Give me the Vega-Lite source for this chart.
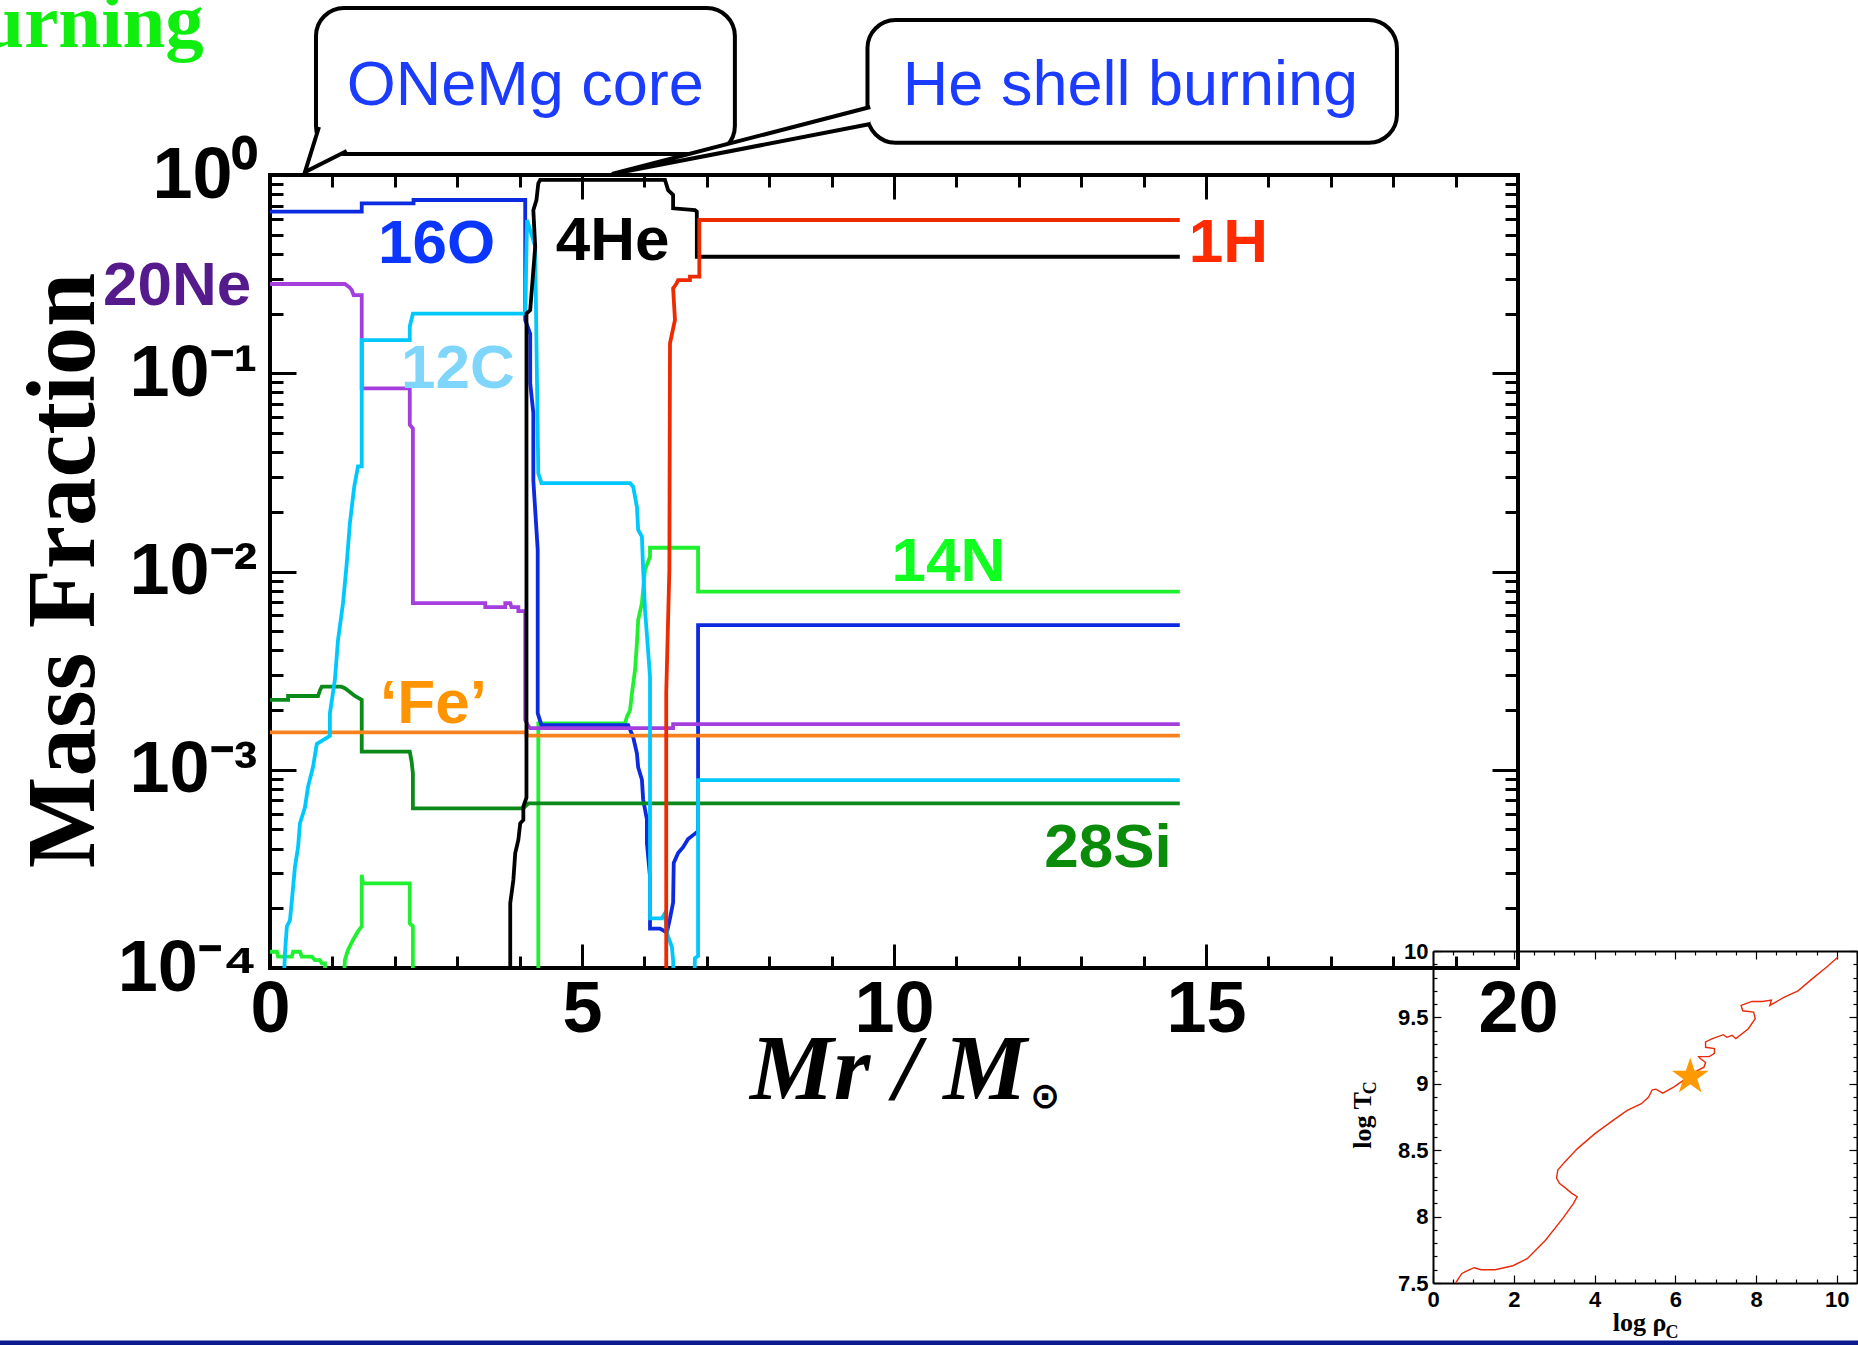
{
"$schema": "https://vega.github.io/schema/vega-lite/v6.json",
"width": 1248, "height": 793,
"autosize": {"type": "none"},
"padding": {"left": 270, "top": 175, "right": 340, "bottom": 377},
"background": "white",
"config": {"view": {"stroke": "black", "strokeWidth": 4}, "axis": {"grid": false, "tickColor": "black", "domainColor": "black", "labelColor": "black", "titleColor": "black"}},
"datasets": {
"comp": [
{"s":"14N","i":0,"x":0,"y":0.0001208},{"s":"14N","i":1,"x":0.11,"y":0.0001208},{"s":"14N","i":2,"x":0.13,"y":0.000114},{"s":"14N","i":3,"x":0.35,"y":0.000114},{"s":"14N","i":4,"x":0.37,"y":0.0001208},{"s":"14N","i":5,"x":0.48,"y":0.0001208},{"s":"14N","i":6,"x":0.51,"y":0.000114},{"s":"14N","i":7,"x":0.67,"y":0.000114},{"s":"14N","i":8,"x":0.72,"y":0.0001096},{"s":"14N","i":9,"x":0.8,"y":0.0001096},{"s":"14N","i":10,"x":0.83,"y":0.0001054},{"s":"14N","i":11,"x":0.88,"y":0.0001054},{"s":"14N","i":12,"x":0.91,"y":0.00005},{"s":"14N","i":13,"x":1.15,"y":0.00005},{"s":"14N","i":14,"x":1.2,"y":0.0001096},{"s":"14N","i":15,"x":1.25,"y":0.0001233},{"s":"14N","i":16,"x":1.33,"y":0.0001384},{"s":"14N","i":17,"x":1.42,"y":0.0001549},{"s":"14N","i":18,"x":1.47,"y":0.0001622},{"s":"14N","i":19,"x":1.47,"y":0.0002951},{"s":"14N","i":20,"x":1.49,"y":0.0002673},{"s":"14N","i":21,"x":2.24,"y":0.0002673},{"s":"14N","i":22,"x":2.24,"y":0.0001679},{"s":"14N","i":23,"x":2.29,"y":0.0001622},{"s":"14N","i":24,"x":2.29,"y":0.00005},{"s":"14N","i":25,"x":4.3,"y":0.00005},{"s":"14N","i":26,"x":4.3,"y":0.001714},{"s":"14N","i":27,"x":5.69,"y":0.001714},{"s":"14N","i":28,"x":5.72,"y":0.001854},{"s":"14N","i":29,"x":5.77,"y":0.001995},{"s":"14N","i":30,"x":5.8,"y":0.002427},{"s":"14N","i":31,"x":5.85,"y":0.003184},{"s":"14N","i":32,"x":5.88,"y":0.004345},{"s":"14N","i":33,"x":5.9,"y":0.005689},{"s":"14N","i":34,"x":5.96,"y":0.006918},{"s":"14N","i":35,"x":6.01,"y":0.01023},{"s":"14N","i":36,"x":6.09,"y":0.01189},{"s":"14N","i":37,"x":6.09,"y":0.01318},{"s":"14N","i":38,"x":6.86,"y":0.01318},{"s":"14N","i":39,"x":6.86,"y":0.007907},{"s":"14N","i":40,"x":14.58,"y":0.007907},
{"s":"16O","i":0,"x":0,"y":0.653},{"s":"16O","i":1,"x":1.47,"y":0.653},{"s":"16O","i":2,"x":1.47,"y":0.719},{"s":"16O","i":3,"x":2.3,"y":0.719},{"s":"16O","i":4,"x":2.3,"y":0.748},{"s":"16O","i":5,"x":4.09,"y":0.748},{"s":"16O","i":6,"x":4.09,"y":0.186},{"s":"16O","i":7,"x":4.17,"y":0.158},{"s":"16O","i":8,"x":4.17,"y":0.0891},{"s":"16O","i":9,"x":4.22,"y":0.0631},{"s":"16O","i":10,"x":4.22,"y":0.0288},{"s":"16O","i":11,"x":4.29,"y":0.0129},{"s":"16O","i":12,"x":4.29,"y":0.00193},{"s":"16O","i":13,"x":4.35,"y":0.00168},{"s":"16O","i":14,"x":5.74,"y":0.00168},{"s":"16O","i":15,"x":5.82,"y":0.00146},{"s":"16O","i":16,"x":5.88,"y":0.00121},{"s":"16O","i":17,"x":5.9,"y":0.00103},{"s":"16O","i":18,"x":5.96,"y":0.000891},{"s":"16O","i":19,"x":5.98,"y":0.000708},{"s":"16O","i":20,"x":6.04,"y":0.000562},{"s":"16O","i":21,"x":6.04,"y":0.000427},{"s":"16O","i":22,"x":6.09,"y":0.000288},{"s":"16O","i":23,"x":6.09,"y":0.000158},{"s":"16O","i":24,"x":6.25,"y":0.000158},{"s":"16O","i":25,"x":6.36,"y":0.000151},{"s":"16O","i":26,"x":6.41,"y":0.000178},{"s":"16O","i":27,"x":6.46,"y":0.000214},{"s":"16O","i":28,"x":6.47,"y":0.000339},{"s":"16O","i":29,"x":6.54,"y":0.00038},{"s":"16O","i":30,"x":6.62,"y":0.000407},{"s":"16O","i":31,"x":6.7,"y":0.000447},{"s":"16O","i":32,"x":6.78,"y":0.000468},{"s":"16O","i":33,"x":6.86,"y":0.00049},{"s":"16O","i":34,"x":6.86,"y":0.00537},{"s":"16O","i":35,"x":14.58,"y":0.00537},
{"s":"20Ne","i":0,"x":0,"y":0.282},{"s":"20Ne","i":1,"x":1.2,"y":0.282},{"s":"20Ne","i":2,"x":1.27,"y":0.272},{"s":"20Ne","i":3,"x":1.31,"y":0.263},{"s":"20Ne","i":4,"x":1.34,"y":0.248},{"s":"20Ne","i":5,"x":1.47,"y":0.248},{"s":"20Ne","i":6,"x":1.47,"y":0.0839},{"s":"20Ne","i":7,"x":2.24,"y":0.0839},{"s":"20Ne","i":8,"x":2.24,"y":0.055},{"s":"20Ne","i":9,"x":2.29,"y":0.0527},{"s":"20Ne","i":10,"x":2.29,"y":0.00692},{"s":"20Ne","i":11,"x":3.45,"y":0.00692},{"s":"20Ne","i":12,"x":3.45,"y":0.00661},{"s":"20Ne","i":13,"x":3.77,"y":0.00661},{"s":"20Ne","i":14,"x":3.77,"y":0.00692},{"s":"20Ne","i":15,"x":3.85,"y":0.00692},{"s":"20Ne","i":16,"x":3.87,"y":0.00661},{"s":"20Ne","i":17,"x":3.98,"y":0.00661},{"s":"20Ne","i":18,"x":3.98,"y":0.00631},{"s":"20Ne","i":19,"x":4.09,"y":0.00631},{"s":"20Ne","i":20,"x":4.09,"y":0.00178},{"s":"20Ne","i":21,"x":4.14,"y":0.00166},{"s":"20Ne","i":22,"x":4.17,"y":0.00162},{"s":"20Ne","i":23,"x":6.46,"y":0.00162},{"s":"20Ne","i":24,"x":6.46,"y":0.0017},{"s":"20Ne","i":25,"x":14.58,"y":0.0017},
{"s":"28Si","i":0,"x":0,"y":0.002249},{"s":"28Si","i":1,"x":0.29,"y":0.002249},{"s":"28Si","i":2,"x":0.29,"y":0.002355},{"s":"28Si","i":3,"x":0.77,"y":0.002355},{"s":"28Si","i":4,"x":0.8,"y":0.002512},{"s":"28Si","i":5,"x":0.83,"y":0.002624},{"s":"28Si","i":6,"x":1.14,"y":0.002624},{"s":"28Si","i":7,"x":1.2,"y":0.002576},{"s":"28Si","i":8,"x":1.28,"y":0.002466},{"s":"28Si","i":9,"x":1.36,"y":0.002355},{"s":"28Si","i":10,"x":1.47,"y":0.002249},{"s":"28Si","i":11,"x":1.47,"y":0.001233},{"s":"28Si","i":12,"x":2.24,"y":0.001233},{"s":"28Si","i":13,"x":2.27,"y":0.001096},{"s":"28Si","i":14,"x":2.29,"y":0.000959},{"s":"28Si","i":15,"x":2.29,"y":0.000638},{"s":"28Si","i":16,"x":4.06,"y":0.000638},{"s":"28Si","i":17,"x":4.11,"y":0.000664},{"s":"28Si","i":18,"x":4.14,"y":0.000676},{"s":"28Si","i":19,"x":14.58,"y":0.000676},
{"s":"Fe","i":0,"x":0,"y":0.001545},{"s":"Fe","i":1,"x":4.11,"y":0.001545},{"s":"Fe","i":2,"x":4.11,"y":0.001486},{"s":"Fe","i":3,"x":14.58,"y":0.001486},
{"s":"12C","i":0,"x":0.19,"y":0.00005},{"s":"12C","i":1,"x":0.24,"y":0.000119},{"s":"12C","i":2,"x":0.27,"y":0.000162},{"s":"12C","i":3,"x":0.32,"y":0.000174},{"s":"12C","i":4,"x":0.35,"y":0.000219},{"s":"12C","i":5,"x":0.4,"y":0.000324},{"s":"12C","i":6,"x":0.45,"y":0.000407},{"s":"12C","i":7,"x":0.48,"y":0.000537},{"s":"12C","i":8,"x":0.56,"y":0.000646},{"s":"12C","i":9,"x":0.61,"y":0.000822},{"s":"12C","i":10,"x":0.69,"y":0.001035},{"s":"12C","i":11,"x":0.75,"y":0.00135},{"s":"12C","i":12,"x":0.96,"y":0.00148},{"s":"12C","i":13,"x":0.96,"y":0.00193},{"s":"12C","i":14,"x":1.04,"y":0.00284},{"s":"12C","i":15,"x":1.09,"y":0.00452},{"s":"12C","i":16,"x":1.17,"y":0.00692},{"s":"12C","i":17,"x":1.23,"y":0.011},{"s":"12C","i":18,"x":1.28,"y":0.0175},{"s":"12C","i":19,"x":1.35,"y":0.0268},{"s":"12C","i":20,"x":1.41,"y":0.0339},{"s":"12C","i":21,"x":1.47,"y":0.0339},{"s":"12C","i":22,"x":1.47,"y":0.147},{"s":"12C","i":23,"x":2.24,"y":0.147},{"s":"12C","i":24,"x":2.24,"y":0.172},{"s":"12C","i":25,"x":2.29,"y":0.2},{"s":"12C","i":26,"x":4.09,"y":0.2},{"s":"12C","i":27,"x":4.12,"y":0.593},{"s":"12C","i":28,"x":4.25,"y":0.435},{"s":"12C","i":29,"x":4.27,"y":0.1416},{"s":"12C","i":30,"x":4.3,"y":0.0313},{"s":"12C","i":31,"x":4.35,"y":0.0279},{"s":"12C","i":32,"x":5.77,"y":0.0279},{"s":"12C","i":33,"x":5.82,"y":0.0268},{"s":"12C","i":34,"x":5.88,"y":0.0212},{"s":"12C","i":35,"x":5.9,"y":0.0162},{"s":"12C","i":36,"x":5.96,"y":0.015},{"s":"12C","i":37,"x":5.98,"y":0.0102},{"s":"12C","i":38,"x":6.01,"y":0.0064},{"s":"12C","i":39,"x":6.09,"y":0.00295},{"s":"12C","i":40,"x":6.09,"y":0.000178},{"s":"12C","i":41,"x":6.28,"y":0.000178},{"s":"12C","i":42,"x":6.33,"y":0.000189},{"s":"12C","i":43,"x":6.36,"y":0.00015},{"s":"12C","i":44,"x":6.44,"y":0.000128},{"s":"12C","i":45,"x":6.46,"y":0.00011},{"s":"12C","i":46,"x":6.49,"y":0.00005},{"s":"12C","i":47,"x":6.78,"y":0.00005},{"s":"12C","i":48,"x":6.81,"y":0.000112},{"s":"12C","i":49,"x":6.86,"y":0.000115},{"s":"12C","i":50,"x":6.86,"y":0.000887},{"s":"12C","i":51,"x":14.58,"y":0.000887},
{"s":"4He","i":0,"x":3.85,"y":0.00005},{"s":"4He","i":1,"x":3.85,"y":0.000212},{"s":"4He","i":2,"x":3.9,"y":0.000278},{"s":"4He","i":3,"x":3.93,"y":0.00038},{"s":"4He","i":4,"x":3.98,"y":0.000443},{"s":"4He","i":5,"x":4.01,"y":0.000537},{"s":"4He","i":6,"x":4.06,"y":0.000558},{"s":"4He","i":7,"x":4.06,"y":0.000652},{"s":"4He","i":8,"x":4.11,"y":0.000724},{"s":"4He","i":9,"x":4.11,"y":0.2},{"s":"4He","i":10,"x":4.17,"y":0.208},{"s":"4He","i":11,"x":4.25,"y":0.435},{"s":"4He","i":12,"x":4.22,"y":0.665},{"s":"4He","i":13,"x":4.27,"y":0.748},{"s":"4He","i":14,"x":4.3,"y":0.908},{"s":"4He","i":15,"x":4.33,"y":0.944},{"s":"4He","i":16,"x":6.33,"y":0.944},{"s":"4He","i":17,"x":6.38,"y":0.839},{"s":"4He","i":18,"x":6.46,"y":0.794},{"s":"4He","i":19,"x":6.46,"y":0.679},{"s":"4He","i":20,"x":6.81,"y":0.665},{"s":"4He","i":21,"x":6.84,"y":0.653},{"s":"4He","i":22,"x":6.84,"y":0.387},{"s":"4He","i":23,"x":14.58,"y":0.387},
{"s":"1H","i":0,"x":6.35,"y":0.00005},{"s":"1H","i":1,"x":6.35,"y":0.00243},{"s":"1H","i":2,"x":6.4,"y":0.0102},{"s":"1H","i":3,"x":6.41,"y":0.1416},{"s":"1H","i":4,"x":6.49,"y":0.186},{"s":"1H","i":5,"x":6.46,"y":0.268},{"s":"1H","i":6,"x":6.51,"y":0.282},{"s":"1H","i":7,"x":6.54,"y":0.295},{"s":"1H","i":8,"x":6.73,"y":0.295},{"s":"1H","i":9,"x":6.73,"y":0.307},{"s":"1H","i":10,"x":6.88,"y":0.307},{"s":"1H","i":11,"x":6.88,"y":0.593},{"s":"1H","i":12,"x":14.58,"y":0.593}
],
"labels": [
{"n":"16O","x":2.67,"y":0.36},{"n":"4He","x":5.49,"y":0.372},{"n":"1H","x":15.36,"y":0.364},{"n":"20Ne","x":-1.49,"y":0.222},{"n":"12C","x":3.01,"y":0.0839},{"n":"14N","x":10.87,"y":0.00895},{"n":"‘Fe’","x":2.62,"y":0.00172},{"n":"28Si","x":13.43,"y":0.000324}
],
"bubbles": [
{"t":"ONeMg core","x":4.09,"y":2.254},{"t":"He shell burning","x":13.79,"y":2.254}
],
"tail1": [{"i":0,"x":0.785,"y":1.746},{"i":1,"x":0.56,"y":1.035},{"i":2,"x":1.23,"y":1.321}],
"tail2": [{"i":0,"x":9.62,"y":2.203},{"i":1,"x":5.48,"y":1.012},{"i":2,"x":9.62,"y":1.807}],
"track": [
{"i":1,"rho":0.56,"T":7.5},{"i":2,"rho":0.71,"T":7.57},{"i":3,"rho":0.8,"T":7.585},{"i":4,"rho":1.02,"T":7.615},{"i":5,"rho":1.19,"T":7.6},{"i":6,"rho":1.54,"T":7.6},{"i":7,"rho":1.98,"T":7.63},{"i":8,"rho":2.34,"T":7.685},{"i":9,"rho":2.78,"T":7.82},{"i":10,"rho":3.21,"T":7.985},{"i":11,"rho":3.48,"T":8.1},{"i":12,"rho":3.57,"T":8.15},{"i":13,"rho":3.44,"T":8.175},{"i":14,"rho":3.26,"T":8.22},{"i":15,"rho":3.13,"T":8.25},{"i":16,"rho":3.06,"T":8.29},{"i":17,"rho":3.09,"T":8.35},{"i":18,"rho":3.26,"T":8.41},{"i":19,"rho":3.57,"T":8.51},{"i":20,"rho":4.01,"T":8.625},{"i":21,"rho":4.46,"T":8.725},{"i":22,"rho":4.81,"T":8.8},{"i":23,"rho":5.16,"T":8.85},{"i":24,"rho":5.34,"T":8.9},{"i":25,"rho":5.43,"T":8.955},{"i":26,"rho":5.52,"T":8.96},{"i":27,"rho":5.69,"T":8.93},{"i":28,"rho":5.96,"T":8.975},{"i":29,"rho":6.22,"T":9.03},{"i":30,"rho":6.49,"T":9.09},{"i":31,"rho":6.71,"T":9.125},{"i":32,"rho":6.75,"T":9.16},{"i":33,"rho":6.62,"T":9.19},{"i":34,"rho":6.58,"T":9.205},{"i":35,"rho":6.84,"T":9.205},{"i":36,"rho":6.97,"T":9.23},{"i":37,"rho":6.97,"T":9.265},{"i":38,"rho":6.75,"T":9.275},{"i":39,"rho":6.75,"T":9.315},{"i":40,"rho":6.92,"T":9.34},{"i":41,"rho":7.19,"T":9.37},{"i":42,"rho":7.28,"T":9.35},{"i":43,"rho":7.41,"T":9.365},{"i":44,"rho":7.5,"T":9.34},{"i":45,"rho":7.81,"T":9.415},{"i":46,"rho":7.98,"T":9.49},{"i":47,"rho":7.94,"T":9.54},{"i":48,"rho":7.67,"T":9.55},{"i":49,"rho":7.63,"T":9.59},{"i":50,"rho":7.9,"T":9.62},{"i":51,"rho":8.16,"T":9.62},{"i":52,"rho":8.38,"T":9.63},{"i":53,"rho":8.34,"T":9.59},{"i":54,"rho":8.69,"T":9.65},{"i":55,"rho":9.04,"T":9.7},{"i":56,"rho":9.39,"T":9.79},{"i":57,"rho":9.75,"T":9.88},{"i":58,"rho":10.03,"T":9.955}
],
"star": [{"rho":6.37,"T":9.053}],
"one": [{}]
},
"layer": [
{
"layer": [
{"data": {"name": "one"},
 "mark": {"type": "rule", "color": "#0b1a8c", "strokeWidth": 5},
 "encoding": {
  "x": {"datum": -5, "type": "quantitative", "scale": {"domain": [0, 20], "nice": false, "zero": false}, "axis": null},
  "x2": {"datum": 27},
  "y": {"datum": 0.000001284, "type": "quantitative", "scale": {"type": "log", "domain": [0.0001, 1], "nice": false}, "axis": null}}},
{"data": {"name": "one"},
 "mark": {"type": "rect", "cornerRadius": 28, "fill": "white", "stroke": "black", "strokeWidth": 4},
 "encoding": {
  "x": {"datum": 0.737, "type": "quantitative", "scale": {"domain": [0, 20], "nice": false, "zero": false}, "axis": null},
  "x2": {"datum": 7.45},
  "y": {"datum": 6.95, "type": "quantitative", "scale": {"type": "log", "domain": [0.0001, 1], "nice": false}, "axis": null},
  "y2": {"datum": 1.276}}},
{"data": {"name": "tail1"},
 "mark": {"type": "line", "stroke": "black", "strokeWidth": 4, "fill": "white", "strokeJoin": "miter"},
 "encoding": {
  "x": {"field": "x", "type": "quantitative", "scale": {"domain": [0, 20], "nice": false, "zero": false}, "axis": null},
  "y": {"field": "y", "type": "quantitative", "scale": {"type": "log", "domain": [0.0001, 1], "nice": false}, "axis": null},
  "order": {"field": "i"}}},
{"data": {"name": "one"},
 "mark": {"type": "rect", "cornerRadius": 28, "fill": "white", "stroke": "black", "strokeWidth": 4},
 "encoding": {
  "x": {"datum": 9.575, "type": "quantitative", "scale": {"domain": [0, 20], "nice": false, "zero": false}, "axis": null},
  "x2": {"datum": 18.06},
  "y": {"datum": 6.05, "type": "quantitative", "scale": {"type": "log", "domain": [0.0001, 1], "nice": false}, "axis": null},
  "y2": {"datum": 1.455}}},
{"data": {"name": "tail2"},
 "mark": {"type": "line", "stroke": "black", "strokeWidth": 4, "fill": "white", "strokeJoin": "miter"},
 "encoding": {
  "x": {"field": "x", "type": "quantitative", "scale": {"domain": [0, 20], "nice": false, "zero": false}, "axis": null},
  "y": {"field": "y", "type": "quantitative", "scale": {"type": "log", "domain": [0.0001, 1], "nice": false}, "axis": null},
  "order": {"field": "i"}}},
{"data": {"name": "bubbles"},
 "mark": {"type": "text", "font": "Liberation Sans", "fontSize": 63, "color": "#1b3cff", "align": "center", "baseline": "alphabetic"},
 "encoding": {
  "text": {"field": "t"},
  "x": {"field": "x", "type": "quantitative", "scale": {"domain": [0, 20], "nice": false, "zero": false},
   "axis": {"orient": "bottom", "offset": -793, "values": [0,1,2,3,4,5,6,7,8,9,10,11,12,13,14,15,16,17,18,19,20], "labels": false, "domain": false, "tickWidth": 3, "tickSize": {"condition": {"test": "datum.value % 5 == 0", "value": 24}, "value": 12}, "title": null}},
  "y": {"field": "y", "type": "quantitative", "scale": {"type": "log", "domain": [0.0001, 1], "nice": false},
   "axis": {"orient": "left", "offset": -1248, "values": [0.0001,0.0002,0.0003,0.0004,0.0005,0.0006,0.0007,0.0008,0.0009,0.001,0.002,0.003,0.004,0.005,0.006,0.007,0.008,0.009,0.01,0.02,0.03,0.04,0.05,0.06,0.07,0.08,0.09,0.1,0.2,0.3,0.4,0.5,0.6,0.7,0.8,0.9,1], "labels": false, "domain": false, "tickWidth": 3, "tickSize": {"condition": {"test": "abs(log(datum.value)/LN10 - round(log(datum.value)/LN10)) < 0.001", "value": 26}, "value": 13}, "title": null}}}},
{"data": {"name": "comp"},
 "mark": {"type": "line", "strokeWidth": 3.8, "clip": true},
 "encoding": {
  "x": {"field": "x", "type": "quantitative", "scale": {"domain": [0, 20], "nice": false, "zero": false},
   "axis": {"orient": "bottom", "values": [0,5,10,15,20], "ticks": false, "domain": false, "format": "d", "labelFont": "Liberation Sans", "labelFontWeight": "bold", "labelFontSize": 72, "labelPadding": 6, "labelFlush": false, "labelOverlap": false,
    "title": "Mr / M", "titleFont": "Liberation Serif", "titleFontSize": 94, "titleFontWeight": "bold", "titleFontStyle": "italic", "titleX": 618, "titleY": 130, "titleBaseline": "alphabetic", "titleAlign": "center"}},
  "y": {"field": "y", "type": "quantitative", "scale": {"type": "log", "domain": [0.0001, 1], "nice": false},
   "axis": {"orient": "left", "values": [0.0001, 0.001, 0.01, 0.1, 1], "ticks": false, "domain": false, "labelExpr": "'10' + ['⁰','⁻¹','⁻²','⁻³','⁻⁴'][round(-log(datum.value)/LN10)]", "labelFont": "Liberation Sans", "labelFontWeight": "bold", "labelFontSize": 72, "labelPadding": 13, "labelFlush": false, "labelOverlap": false,
    "title": "Mass Fraction", "titleFont": "Liberation Serif", "titleFontSize": 97, "titleFontWeight": "bold", "titleAngle": 270, "titleX": -177, "titleY": 395, "titleBaseline": "alphabetic", "titleAlign": "center"}},
  "color": {"field": "s", "type": "nominal", "legend": null,
   "scale": {"domain": ["14N","16O","20Ne","28Si","Fe","12C","4He","1H"], "range": ["#20f030","#0c2ae0","#a43fdd","#0b8a1a","#f5821f","#00c8ff","#000000","#ee2a00"]}},
  "order": {"field": "i"}}},
{"data": {"name": "labels"},
 "mark": {"type": "text", "font": "Liberation Sans", "fontWeight": "bold", "fontSize": 62, "align": "center", "baseline": "alphabetic"},
 "encoding": {
  "text": {"field": "n"},
  "x": {"field": "x", "type": "quantitative", "scale": {"domain": [0, 20], "nice": false, "zero": false},
   "axis": {"orient": "top", "offset": -793, "values": [0,1,2,3,4,5,6,7,8,9,10,11,12,13,14,15,16,17,18,19,20], "labels": false, "domain": false, "tickWidth": 3, "tickSize": {"condition": {"test": "datum.value % 5 == 0", "value": 24}, "value": 12}, "title": null}},
  "y": {"field": "y", "type": "quantitative", "scale": {"type": "log", "domain": [0.0001, 1], "nice": false},
   "axis": {"orient": "right", "offset": -1248, "values": [0.0001,0.0002,0.0003,0.0004,0.0005,0.0006,0.0007,0.0008,0.0009,0.001,0.002,0.003,0.004,0.005,0.006,0.007,0.008,0.009,0.01,0.02,0.03,0.04,0.05,0.06,0.07,0.08,0.09,0.1,0.2,0.3,0.4,0.5,0.6,0.7,0.8,0.9,1], "labels": false, "domain": false, "tickWidth": 3, "tickSize": {"condition": {"test": "abs(log(datum.value)/LN10 - round(log(datum.value)/LN10)) < 0.001", "value": 26}, "value": 13}, "title": null}},
  "color": {"field": "n", "type": "nominal", "legend": null,
   "scale": {"domain": ["16O","4He","1H","20Ne","12C","14N","‘Fe’","28Si"], "range": ["#0a36ff","#000000","#ff2a00","#551a8b","#80d6fa","#10ff20","#ff9400","#0a8c0a"]}}}},
{"data": {"name": "one"},
 "mark": {"type": "text", "text": "⊙", "font": "DejaVu Sans", "fontSize": 36, "fontWeight": "bold", "color": "black", "align": "center", "baseline": "alphabetic"},
 "encoding": {
  "x": {"datum": 12.42, "type": "quantitative", "scale": {"domain": [0, 20], "nice": false, "zero": false}, "axis": null},
  "y": {"datum": 0.00001967, "type": "quantitative", "scale": {"type": "log", "domain": [0.0001, 1], "nice": false}, "axis": null}}},
{"data": {"name": "one"},
 "mark": {"type": "text", "text": "Burning", "font": "Liberation Serif", "fontSize": 77, "fontWeight": "bold", "color": "#10ee10", "align": "right", "baseline": "alphabetic"},
 "encoding": {
  "x": {"datum": -1.06, "type": "quantitative", "scale": {"domain": [0, 20], "nice": false, "zero": false}, "axis": null},
  "y": {"datum": 4.426, "type": "quantitative", "scale": {"type": "log", "domain": [0.0001, 1], "nice": false}, "axis": null}}}
],
"resolve": {"scale": {"color": "independent"}, "axis": {"x": "independent", "y": "independent"}}
},
{
"layer": [
{"data": {"name": "track"},
 "mark": {"type": "line", "color": "#e82a0a", "strokeWidth": 1.4},
 "encoding": {
  "x": {"field": "rho", "type": "quantitative", "scale": {"domain": [0, 10.5], "range": [1163, 1587], "nice": false, "zero": false},
   "axis": {"orient": "bottom", "offset": 315, "values": [0,2,4,6,8,10], "ticks": false, "domain": true, "domainWidth": 2, "labelExpr": "'' + datum.value", "labelFont": "Liberation Sans", "labelFontWeight": "bold", "labelFontSize": 22, "labelPadding": 6, "labelFlush": false, "labelOverlap": false,
    "title": "log ρ", "titleFont": "Liberation Serif", "titleFontWeight": "bold", "titleFontSize": 26, "titleX": 1369, "titleY": 47, "titleBaseline": "alphabetic", "titleAlign": "center"}},
  "y": {"field": "T", "type": "quantitative", "scale": {"domain": [7.5, 10], "range": [1108, 776], "nice": false, "zero": false},
   "axis": {"orient": "left", "offset": -1163, "values": [7.5,8,8.5,9,9.5,10], "ticks": false, "domain": true, "domainWidth": 2, "labelExpr": "'' + datum.value", "labelFont": "Liberation Sans", "labelFontWeight": "bold", "labelFontSize": 22, "labelPadding": 5, "labelFlush": false, "labelOverlap": false,
    "title": "log T", "titleFont": "Liberation Serif", "titleFontWeight": "bold", "titleFontSize": 26, "titleAngle": 270, "titleX": -63, "titleY": 945, "titleBaseline": "alphabetic", "titleAlign": "center"}},
  "order": {"field": "i"}}},
{"data": {"name": "star"},
 "mark": {"type": "point", "filled": true, "color": "#ff9900", "opacity": 1, "size": 1500, "shape": "M0,-1L0.2245,-0.309L0.9511,-0.309L0.3633,0.118L0.5878,0.809L0,0.382L-0.5878,0.809L-0.3633,0.118L-0.9511,-0.309L-0.2245,-0.309Z"},
 "encoding": {
  "x": {"field": "rho", "type": "quantitative", "scale": {"domain": [0, 10.5], "range": [1163, 1587], "nice": false, "zero": false},
   "axis": {"orient": "top", "offset": -1108, "values": [0,0.5,1,1.5,2,2.5,3,3.5,4,4.5,5,5.5,6,6.5,7,7.5,8,8.5,9,9.5,10,10.5], "labels": false, "domain": false, "tickWidth": 1.2, "tickSize": {"condition": {"test": "datum.value % 2 == 0", "value": 8}, "value": 4}, "title": null}},
  "y": {"field": "T", "type": "quantitative", "scale": {"domain": [7.5, 10], "range": [1108, 776], "nice": false, "zero": false},
   "axis": {"orient": "right", "offset": -85, "values": [7.5,7.6,7.7,7.8,7.9,8,8.1,8.2,8.3,8.4,8.5,8.6,8.7,8.8,8.9,9,9.1,9.2,9.3,9.4,9.5,9.6,9.7,9.8,9.9,10], "labels": false, "domain": false, "tickWidth": 1.2, "tickSize": {"condition": {"test": "abs(datum.value*2 - round(datum.value*2)) < 0.01", "value": 8}, "value": 4}, "title": null}}}},
{"data": {"name": "one"},
 "mark": {"type": "text", "text": "C", "font": "Liberation Serif", "fontWeight": "bold", "fontSize": 18, "color": "black", "align": "center", "baseline": "alphabetic"},
 "encoding": {
  "x": {"datum": 5.92, "type": "quantitative", "scale": {"domain": [0, 10.5], "range": [1163, 1587], "nice": false, "zero": false},
   "axis": {"orient": "bottom", "offset": -17, "values": [0,0.5,1,1.5,2,2.5,3,3.5,4,4.5,5,5.5,6,6.5,7,7.5,8,8.5,9,9.5,10,10.5], "labels": false, "domain": true, "domainWidth": 2, "tickWidth": 1.2, "tickSize": {"condition": {"test": "datum.value % 2 == 0", "value": 8}, "value": 4}, "title": null}},
  "y": {"datum": 7.086, "type": "quantitative", "scale": {"domain": [7.5, 10], "range": [1108, 776], "nice": false, "zero": false},
   "axis": {"orient": "left", "offset": -1587, "values": [7.5,7.6,7.7,7.8,7.9,8,8.1,8.2,8.3,8.4,8.5,8.6,8.7,8.8,8.9,9,9.1,9.2,9.3,9.4,9.5,9.6,9.7,9.8,9.9,10], "labels": false, "domain": true, "domainWidth": 2, "tickWidth": 1.2, "tickSize": {"condition": {"test": "abs(datum.value*2 - round(datum.value*2)) < 0.01", "value": 8}, "value": 4}, "title": null}}}},
{"data": {"name": "one"},
 "mark": {"type": "text", "text": "C", "font": "Liberation Serif", "fontWeight": "bold", "fontSize": 18, "color": "black", "align": "center", "baseline": "alphabetic", "angle": 270},
 "encoding": {
  "x": {"datum": -1.41, "type": "quantitative", "scale": {"domain": [0, 10.5], "range": [1163, 1587], "nice": false, "zero": false}, "axis": null},
  "y": {"datum": 8.97, "type": "quantitative", "scale": {"domain": [7.5, 10], "range": [1108, 776], "nice": false, "zero": false}, "axis": null}}}
],
"resolve": {"axis": {"x": "independent", "y": "independent"}}
}
],
"resolve": {"scale": {"x": "independent", "y": "independent"}}
}
